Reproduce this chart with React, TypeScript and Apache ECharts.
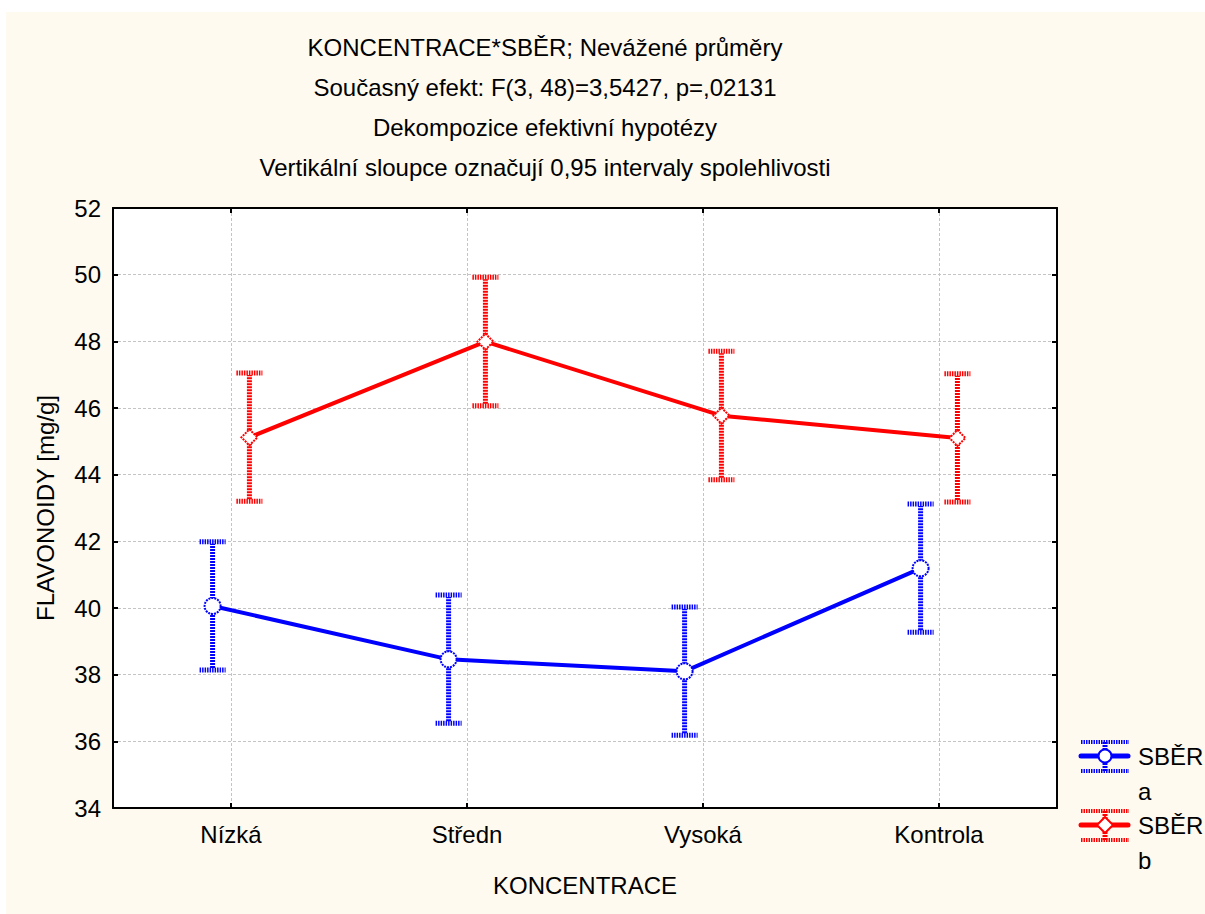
import React, { useEffect, useRef } from 'react';
import * as echarts from 'echarts';

const categories = ['Nízká', 'Středn', 'Vysoká', 'Kontrola'];
const seriesNames = ['SBĚR\na', 'SBĚR\nb'];
const seriesColors = ['#0000ff', '#ff0000'];
const meansA = [40.06, 38.46, 38.1, 41.19];
const lowerA = [38.14, 36.54, 36.18, 39.27];
const upperA = [41.99, 40.39, 40.03, 43.12];
const meansB = [45.12, 47.99, 45.77, 45.1];
const lowerB = [43.2, 46.07, 43.85, 43.18];
const upperB = [47.05, 49.92, 47.7, 47.03];
const yMin = 34;
const yMax = 52;
const yStep = 2;
const titleLines = [
  'KONCENTRACE*SBĚR; Nevážené průměry',
  'Současný efekt: F(3, 48)=3,5427, p=,02131',
  'Dekompozice efektivní hypotézy',
  'Vertikální sloupce označují 0,95 intervaly spolehlivosti',
];
const xName = 'KONCENTRACE';
const yName = 'FLAVONOIDY [mg/g]';

const FONT = '"Liberation Sans", Arial, sans-serif';
const FS = 24;
const GRID = { left: 113, top: 208, width: 944, height: 600 };
const OFFSET = 0.078; // horizontal shift of each group inside a category

export default function App() {
  const ref = useRef<HTMLDivElement>(null);
  useEffect(() => {
    if (!ref.current) return;
    const chart = echarts.init(ref.current, null, { renderer: 'svg' });
    const groups = [
      { name: seriesNames[0], color: seriesColors[0], means: meansA, lower: lowerA, upper: upperA, shift: -OFFSET, symbol: 'circle' },
      { name: seriesNames[1], color: seriesColors[1], means: meansB, lower: lowerB, upper: upperB, shift: OFFSET, symbol: 'diamond' },
    ];
    const series: any[] = [];
    groups.forEach((g) => {
      const color = g.color;
      series.push({
        type: 'custom',
        xAxisIndex: 2,
        yAxisIndex: 0,
        z: 2,
        silent: true,
        data: g.means.map((_, i) => [i + 0.5 + g.shift, g.lower[i], g.upper[i]]),
        renderItem: (params: any, api: any) => {
          const x = api.value(0);
          const pLo = api.coord([x, api.value(1)]);
          const pHi = api.coord([x, api.value(2)]);
          const cap = 13;
          const stemStyle = { stroke: color, lineWidth: 5, lineDash: [2, 1] };
          const capStyle = { stroke: color, lineWidth: 5, lineDash: [1.5, 1] };
          return {
            type: 'group',
            children: [
              { type: 'line', shape: { x1: pLo[0], y1: pLo[1] - 2, x2: pHi[0], y2: pHi[1] + 2 }, style: stemStyle },
              { type: 'line', shape: { x1: pHi[0] - cap, y1: pHi[1], x2: pHi[0] + cap, y2: pHi[1] }, style: capStyle },
              { type: 'line', shape: { x1: pLo[0] - cap, y1: pLo[1], x2: pLo[0] + cap, y2: pLo[1] }, style: capStyle },
            ],
          };
        },
      });
      series.push({
        type: 'line',
        name: g.name,
        xAxisIndex: 2,
        yAxisIndex: 0,
        z: 3,
        data: g.means.map((v, i) => [i + 0.5 + g.shift, v]),
        symbol: g.symbol,
        symbolSize: 16,
        showSymbol: true,
        lineStyle: { color, width: 4 },
        itemStyle: { color: '#ffffff', borderColor: color, borderWidth: 2, borderType: [2, 1] },
      });
    });

    const legendItems: any[] = [];
    groups.forEach((g, k) => {
      const cy = 756 + k * 69;
      const cx = 1105;
      const color = g.color;
      legendItems.push(
        { type: 'line', shape: { x1: 1081, y1: cy - 14, x2: 1129, y2: cy - 14 }, style: { stroke: color, lineWidth: 4, lineDash: [1.5, 1] } },
        { type: 'line', shape: { x1: 1081, y1: cy + 15, x2: 1129, y2: cy + 15 }, style: { stroke: color, lineWidth: 4, lineDash: [1.5, 1] } },
        { type: 'line', shape: { x1: cx, y1: cy - 14, x2: cx, y2: cy + 15 }, style: { stroke: color, lineWidth: 5, lineDash: [2, 1] } },
        { type: 'line', shape: { x1: 1081, y1: cy, x2: 1128, y2: cy }, style: { stroke: color, lineWidth: 5, lineCap: 'round' } },
        g.symbol === 'circle'
          ? { type: 'circle', shape: { cx, cy, r: 6.5 }, style: { fill: '#fff', stroke: color, lineWidth: 2 } }
          : { type: 'polygon', shape: { points: [[cx, cy - 8], [cx + 8, cy], [cx, cy + 8], [cx - 8, cy]] }, style: { fill: '#fff', stroke: color, lineWidth: 2 } },
        { type: 'text', x: 1138, y: cy - 17.5, style: { text: g.name, font: `${FS}px ${FONT}`, fill: '#000', lineHeight: 35, textVerticalAlign: 'top' } }
      );
    });

    const gridLine = { show: true, lineStyle: { color: '#c4c4c4', width: 1, type: [3, 2] } };
    const axisLine = { show: true, onZero: false, lineStyle: { color: '#000', width: 2 } };
    const tickIn = { show: true, inside: true, length: 5, lineStyle: { color: '#000', width: 2 } };

    chart.setOption({
      animation: false,
      backgroundColor: '#ffffff',
      textStyle: { fontFamily: FONT },
      title: {
        text: titleLines.join('\n'),
        left: 545,
        top: 27,
        padding: 0,
        textAlign: 'center',
        textStyle: { fontSize: FS, fontWeight: 'normal', color: '#000', lineHeight: 40, fontFamily: FONT },
      },
      grid: { ...GRID, show: true, backgroundColor: '#ffffff', borderWidth: 0, containLabel: false },
      xAxis: [
        {
          type: 'category',
          data: categories,
          position: 'bottom',
          boundaryGap: true,
          axisLine,
          axisTick: { ...tickIn, alignWithLabel: true },
          axisLabel: { fontSize: FS, color: '#000', margin: 14, fontFamily: FONT },
          splitLine: { ...gridLine, alignWithLabel: true },
          name: xName,
          nameLocation: 'middle',
          nameGap: 65,
          nameTextStyle: { fontSize: FS, color: '#000', fontFamily: FONT },
        },
        {
          type: 'category',
          data: categories,
          position: 'top',
          boundaryGap: true,
          axisLine,
          axisTick: { ...tickIn, alignWithLabel: true },
          axisLabel: { show: false },
          splitLine: { show: false },
        },
        { type: 'value', min: 0, max: categories.length, show: false, splitLine: { show: false } },
      ],
      yAxis: [
        {
          type: 'value',
          min: yMin,
          max: yMax,
          interval: yStep,
          position: 'left',
          axisLine,
          axisTick: tickIn,
          axisLabel: { fontSize: FS, color: '#000', margin: 12, fontFamily: FONT },
          splitLine: gridLine,
          name: yName,
          nameLocation: 'middle',
          nameGap: 56,
          nameRotate: 90,
          nameTextStyle: { fontSize: FS, color: '#000', fontFamily: FONT },
        },
        {
          type: 'value',
          min: yMin,
          max: yMax,
          interval: yStep,
          position: 'right',
          axisLine,
          axisTick: tickIn,
          axisLabel: { show: false },
          splitLine: { show: false },
        },
      ],
      graphic: [
        { type: 'rect', z: -100, silent: true, shape: { x: 6, y: 12, width: 1199, height: 902 }, style: { fill: '#fffaf0' } },
        ...legendItems,
      ],
      series,
    });
    return () => chart.dispose();
  }, []);
  return <div ref={ref} style={{ position: 'absolute', left: 0, top: 0, width: 1205, height: 914 }} />;
}
